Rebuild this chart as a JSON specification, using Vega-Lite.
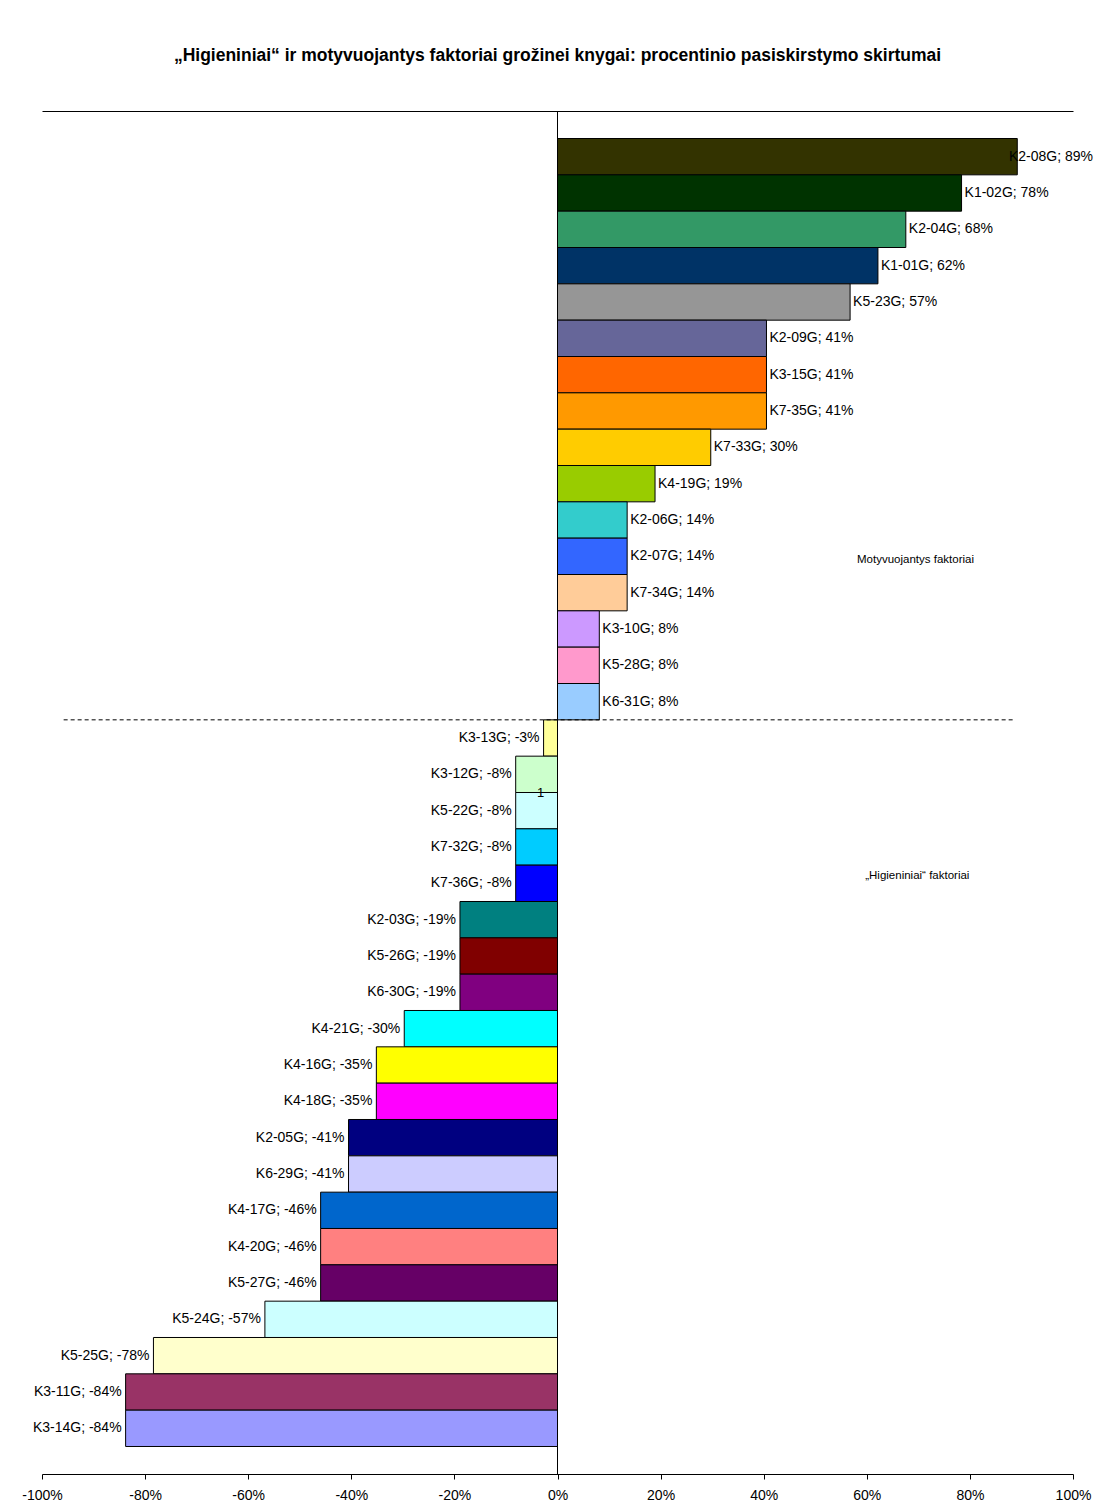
{
  "$schema": "https://vega.github.io/schema/vega-lite/v6.json",
  "width": 1031,
  "height": 1363,
  "autosize": {"type": "none"},
  "padding": {"left": 42, "top": 111, "right": 23, "bottom": 35},
  "background": "white",
  "config": {
    "view": {"stroke": null},
    "font": "Liberation Sans",
    "text": {"font": "Liberation Sans", "color": "black"}
  },
  "title": {
    "text": "„Higieniniai“ ir motyvuojantys faktoriai grožinei knygai: procentinio pasiskirstymo skirtumai",
    "font": "Liberation Sans",
    "fontSize": 17.5,
    "fontWeight": "bold",
    "color": "black",
    "anchor": "middle",
    "offset": 46
  },
  "datasets": {
    "bars": [
      {"cat": "K2-08G", "value": 89.19, "color": "#333300"},
      {"cat": "K1-02G", "value": 78.38, "color": "#003300"},
      {"cat": "K2-04G", "value": 67.57, "color": "#339966"},
      {"cat": "K1-01G", "value": 62.16, "color": "#003366"},
      {"cat": "K5-23G", "value": 56.76, "color": "#969696"},
      {"cat": "K2-09G", "value": 40.54, "color": "#666699"},
      {"cat": "K3-15G", "value": 40.54, "color": "#FF6600"},
      {"cat": "K7-35G", "value": 40.54, "color": "#FF9900"},
      {"cat": "K7-33G", "value": 29.73, "color": "#FFCC00"},
      {"cat": "K4-19G", "value": 18.92, "color": "#99CC00"},
      {"cat": "K2-06G", "value": 13.51, "color": "#33CCCC"},
      {"cat": "K2-07G", "value": 13.51, "color": "#3366FF"},
      {"cat": "K7-34G", "value": 13.51, "color": "#FFCC99"},
      {"cat": "K3-10G", "value": 8.11, "color": "#CC99FF"},
      {"cat": "K5-28G", "value": 8.11, "color": "#FF99CC"},
      {"cat": "K6-31G", "value": 8.11, "color": "#99CCFF"},
      {"cat": "K3-13G", "value": -2.70, "color": "#FFFF99"},
      {"cat": "K3-12G", "value": -8.11, "color": "#CCFFCC"},
      {"cat": "K5-22G", "value": -8.11, "color": "#CCFFFF"},
      {"cat": "K7-32G", "value": -8.11, "color": "#00CCFF"},
      {"cat": "K7-36G", "value": -8.11, "color": "#0000FF"},
      {"cat": "K2-03G", "value": -18.92, "color": "#008080"},
      {"cat": "K5-26G", "value": -18.92, "color": "#800000"},
      {"cat": "K6-30G", "value": -18.92, "color": "#800080"},
      {"cat": "K4-21G", "value": -29.73, "color": "#00FFFF"},
      {"cat": "K4-16G", "value": -35.14, "color": "#FFFF00"},
      {"cat": "K4-18G", "value": -35.14, "color": "#FF00FF"},
      {"cat": "K2-05G", "value": -40.54, "color": "#000080"},
      {"cat": "K6-29G", "value": -40.54, "color": "#CCCCFF"},
      {"cat": "K4-17G", "value": -45.95, "color": "#0066CC"},
      {"cat": "K4-20G", "value": -45.95, "color": "#FF8080"},
      {"cat": "K5-27G", "value": -45.95, "color": "#660066"},
      {"cat": "K5-24G", "value": -56.76, "color": "#CCFFFF"},
      {"cat": "K5-25G", "value": -78.38, "color": "#FFFFCC"},
      {"cat": "K3-11G", "value": -83.78, "color": "#993366"},
      {"cat": "K3-14G", "value": -83.78, "color": "#9999FF"}
    ]
  },
  "resolve": {"axis": {"x": "independent"}},
  "layer": [
    {
      "data": {"name": "bars"},
      "mark": {"type": "bar", "stroke": "black", "strokeWidth": 1},
      "encoding": {
        "y": {
          "field": "cat", "type": "nominal", "sort": null, "axis": null,
          "scale": {
            "domain": ["K2-08G","K1-02G","K2-04G","K1-01G","K5-23G","K2-09G","K3-15G","K7-35G","K7-33G","K4-19G","K2-06G","K2-07G","K7-34G","K3-10G","K5-28G","K6-31G","K3-13G","K3-12G","K5-22G","K7-32G","K7-36G","K2-03G","K5-26G","K6-30G","K4-21G","K4-16G","K4-18G","K2-05G","K6-29G","K4-17G","K4-20G","K5-27G","K5-24G","K5-25G","K3-11G","K3-14G"],
            "paddingInner": 0, "paddingOuter": 0.757
          }
        },
        "x": {
          "field": "value", "type": "quantitative",
          "scale": {"domain": [-100, 100], "nice": false, "zero": false},
          "axis": {
            "orient": "bottom", "values": [-100, -80, -60, -40, -20, 0, 20, 40, 60, 80, 100],
            "labelExpr": "datum.value + '%'", "grid": false, "title": null,
            "domainColor": "black", "tickColor": "black", "tickSize": 5,
            "labelColor": "black", "labelFontSize": 14, "labelFont": "Liberation Sans",
            "labelPadding": 9, "labelFlush": false, "labelOverlap": false
          }
        },
        "fill": {"field": "color", "type": "nominal", "scale": null, "legend": null}
      }
    },
    {
      "data": {"name": "bars"},
      "transform": [
        {"filter": "datum.value >= 0"},
        {"calculate": "datum.cat + '; ' + round(datum.value) + '%'", "as": "label"},
        {"calculate": "min(datum.value, 87)", "as": "lx"}
      ],
      "mark": {"type": "text", "align": "left", "baseline": "middle", "dx": 3, "fontSize": 14},
      "encoding": {
        "y": {"field": "cat", "type": "nominal", "sort": null, "axis": null},
        "x": {"field": "lx", "type": "quantitative", "axis": null},
        "text": {"field": "label"}
      }
    },
    {
      "data": {"name": "bars"},
      "transform": [
        {"filter": "datum.value < 0"},
        {"calculate": "datum.cat + '; ' + round(datum.value) + '%'", "as": "label"}
      ],
      "mark": {"type": "text", "align": "right", "baseline": "middle", "dx": -4, "fontSize": 14},
      "encoding": {
        "y": {"field": "cat", "type": "nominal", "sort": null, "axis": null},
        "x": {"field": "value", "type": "quantitative", "axis": null},
        "text": {"field": "label"}
      }
    },
    {
      "data": {"values": [{"x": 0}]},
      "mark": {"type": "rule", "color": "black", "strokeWidth": 1},
      "encoding": {
        "x": {
          "field": "x", "type": "quantitative",
          "axis": {
            "orient": "top", "labels": false, "ticks": false, "grid": false,
            "title": null, "domain": true, "domainColor": "black"
          }
        }
      }
    },
    {
      "data": {"values": [{"cat": "K3-13G", "x1": -95.8, "x2": 88.5}]},
      "mark": {"type": "rule", "color": "black", "strokeWidth": 1, "strokeDash": [4, 3]},
      "encoding": {
        "y": {"field": "cat", "type": "nominal", "bandPosition": 0, "axis": null},
        "x": {"field": "x1", "type": "quantitative", "axis": null},
        "x2": {"field": "x2"}
      }
    },
    {
      "data": {"values": [{"cat": "K2-07G", "x": 69.45, "text": "Motyvuojantys faktoriai"}]},
      "mark": {"type": "text", "align": "center", "baseline": "middle", "fontSize": 11.5},
      "encoding": {
        "y": {"field": "cat", "type": "nominal", "bandPosition": 0.59, "axis": null},
        "x": {"field": "x", "type": "quantitative", "axis": null},
        "text": {"field": "text"}
      }
    },
    {
      "data": {"values": [{"cat": "K7-36G", "x": 69.8, "text": "„Higieniniai“ faktoriai"}]},
      "mark": {"type": "text", "align": "center", "baseline": "middle", "fontSize": 11.5},
      "encoding": {
        "y": {"field": "cat", "type": "nominal", "bandPosition": 0.31, "axis": null},
        "x": {"field": "x", "type": "quantitative", "axis": null},
        "text": {"field": "text"}
      }
    },
    {
      "data": {"values": [{"cat": "K5-22G", "x": -3.3, "text": "1"}]},
      "mark": {"type": "text", "align": "center", "baseline": "middle", "fontSize": 13},
      "encoding": {
        "y": {"field": "cat", "type": "nominal", "bandPosition": 0, "axis": null},
        "x": {"field": "x", "type": "quantitative", "axis": null},
        "text": {"field": "text"}
      }
    }
  ]
}
